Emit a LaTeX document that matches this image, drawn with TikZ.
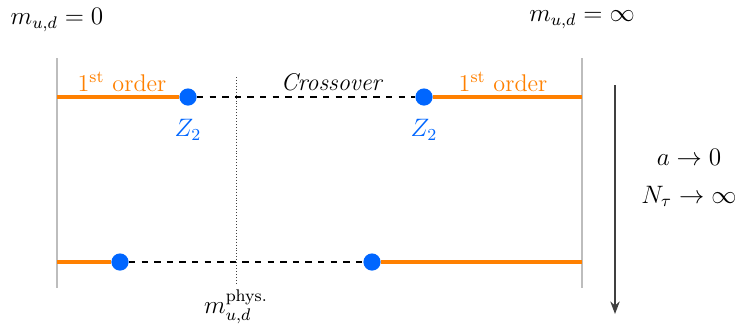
\documentclass[tikz,border=0pt]{standalone}
\usepackage{tikz}
\usetikzlibrary{arrows.meta,positioning}
\usepackage{amsmath,amssymb}
\definecolor{firstorder}{HTML}{FF8000}
\definecolor{ztwo}{HTML}{0066FF}
\definecolor{edge}{HTML}{BDBDBD}
\definecolor{flow}{HTML}{404040}

\begin{document}
\begin{tikzpicture}[x=0.01674cm, y=-0.01674cm,
    every node/.style={font=\fontsize{11.5}{14}\selectfont},
    wall/.style={edge, line width=0.8pt},
    fo/.style={firstorder, line width=1.9pt},
    cross/.style={black, dashed, line width=1pt},
    crit/.style={circle, fill=ztwo, inner sep=0pt, minimum size=8.2pt}]
  \useasboundingbox (0,0) rectangle (738,334);

  % Boundaries
  \coordinate (tl) at (57,58);
  \coordinate (bl) at (57,288);
  \coordinate (tr) at (582,58);
  \coordinate (br) at (582,288);
  \draw[wall] (tl) -- (bl);
  \draw[wall] (tr) -- (br);
  \node[inner sep=0pt] (m0) at (57,20) {$m_{u,d} = 0$};
  \node[inner sep=0pt] (minf) at (582,20) {$m_{u,d} = \infty$};

  % Physical mass
  \coordinate (pt) at (236,77);
  \coordinate (pb) at (236,284);
  \draw[densely dotted, flow] (pt) -- (pb);
  \node[inner sep=0pt] (mphys) at (236,307) {$m_{u,d}^{\text{phys.}}$};

  % Coarse lattice
  \coordinate (al) at (57,97);
  \coordinate (ar) at (582,97);
  \node[crit] (z1) at (188,97) {};
  \node[crit] (z2) at (424,97) {};
  \draw[fo] (al) -- (z1);
  \draw[cross] (z1) -- (z2);
  \draw[fo] (z2) -- (ar);
  \node[firstorder] (fo1) at (122,82) {1\textsuperscript{st} order};
  \node[firstorder] (fo2) at (503,82) {1\textsuperscript{st} order};
  \node (co) at (332,82) {\textit{Crossover}};
  \node[ztwo] (lz1) at (188,130) {$Z_2$};
  \node[ztwo] (lz2) at (424,130) {$Z_2$};

  % Continuum
  \coordinate (cl) at (57,262);
  \coordinate (cr) at (582,262);
  \node[crit] (z3) at (120,262) {};
  \node[crit] (z4) at (372,262) {};
  \draw[fo] (cl) -- (z3);
  \draw[cross] (z3) -- (z4);
  \draw[fo] (z4) -- (cr);

  % Limit arrow
  \coordinate (lt) at (615,85);
  \coordinate (lb) at (615,314);
  \draw[flow, line width=0.6pt, -{Stealth[length=6pt]}] (lt) -- (lb);
  \node[align=center] (lim) at (689,178) {$a \to 0$\\[4pt] $N_\tau \to \infty$};
\end{tikzpicture}
\end{document}
